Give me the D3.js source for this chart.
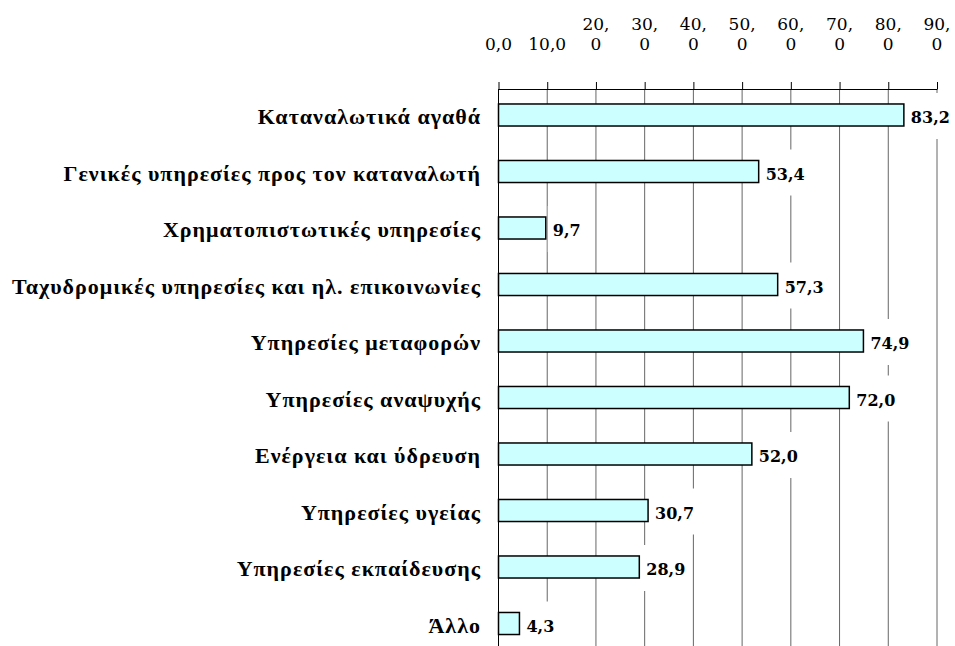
<!DOCTYPE html>
<html>
<head>
<meta charset="utf-8">
<script src="https://cdn.jsdelivr.net/npm/d3@7"></script>
<style>
  body { margin: 0; background: #fff; }
  svg { display: block; }
</style>
</head>
<body>
<div id="chart"></div>
<script>
// categories, top to bottom
var categories = [
  "Καταναλωτικά αγαθά",
  "Γενικές υπηρεσίες προς τον καταναλωτή",
  "Χρηματοπιστωτικές υπηρεσίες",
  "Ταχυδρομικές υπηρεσίες και ηλ. επικοινωνίες",
  "Υπηρεσίες μεταφορών",
  "Υπηρεσίες αναψυχής",
  "Ενέργεια και ύδρευση",
  "Υπηρεσίες υγείας",
  "Υπηρεσίες εκπαίδευσης",
  "Άλλο"
];
var values = [83.2, 53.4, 9.7, 57.3, 74.9, 72.0, 52.0, 30.7, 28.9, 4.3];
var tickValues = [0, 10, 20, 30, 40, 50, 60, 70, 80, 90];

var width = 955, height = 646;
var x0 = 498.5, axisY = 89;

var svg = d3.select("#chart")
  .append("svg")
    .attr("width", width)
    .attr("height", height);

var x = d3.scaleLinear()
  .domain([0, 90])
  .range([x0, 937]);

var y = d3.scaleBand()
  .domain(categories)
  .range([86.75, 86.75 + 56.5 * categories.length])
  .paddingInner(0.61)
  .paddingOuter(0.305);

var fmt = function(v) { return d3.format(".1f")(v).replace(".", ","); };

// gridlines
svg.append("g")
  .selectAll("line")
  .data(tickValues)
  .enter()
  .append("line")
    .attr("x1", d => x(d))
    .attr("x2", d => x(d))
    .attr("y1", axisY)
    .attr("y2", height)
    .attr("stroke", d => d === 0 ? "#000" : "#666")
    .attr("stroke-width", 1);

// top axis
var axis = svg.append("g")
  .attr("transform", "translate(0," + axisY + ")")
  .call(d3.axisTop(x).tickValues(tickValues).tickSize(7).tickSizeOuter(0).tickFormat(""));
axis.select(".domain").attr("stroke", "#000");
axis.selectAll(".tick line").attr("stroke", "#000");

// tick labels (wrapped like the original: "20," / "0")
var tickLab = svg.append("g")
  .attr("font-family", "'DejaVu Serif', serif")
  .attr("font-size", 17)
  .attr("fill", "#000")
  .attr("text-anchor", "middle");

tickValues.forEach(function(t) {
  var s = fmt(t);
  if (t < 20) {
    tickLab.append("text").attr("x", x(t)).attr("y", 50).text(s);
  } else {
    var parts = s.split(",");
    tickLab.append("text").attr("x", x(t)).attr("y", 30).text(parts[0] + ",");
    tickLab.append("text").attr("x", x(t)).attr("y", 50).text(parts[1]);
  }
});

// category labels
svg.append("g")
  .selectAll("text")
  .data(categories)
  .enter()
  .append("text")
    .attr("x", 481)
    .attr("y", d => y(d) + y.bandwidth() / 2 + 1.5)
    .attr("dy", "0.35em")
    .attr("text-anchor", "end")
    .attr("font-family", "'Liberation Serif', serif")
    .attr("font-weight", "bold")
    .attr("font-size", 22)
    .attr("letter-spacing", 1)
    .text(d => d);

// value labels with white boxes (they hide the gridlines)
var valG = svg.append("g");
categories.forEach(function(c, i) {
  var cy = y(c) + y.bandwidth() / 2;
  var g = valG.append("g");
  var box = g.append("rect").attr("fill", "#fff");
  var t = g.append("text")
    .attr("x", x(values[i]) + 7)
    .attr("y", cy + 2)
    .attr("dy", "0.38em")
    .attr("font-family", "'DejaVu Serif', serif")
    .attr("font-weight", "bold")
    .attr("font-size", 16)
    .text(fmt(values[i]));
  var bb = t.node().getBBox();
  box.attr("x", x(values[i]) + 2)
    .attr("y", cy - 22)
    .attr("width", bb.x + bb.width + 3 - (x(values[i]) + 2))
    .attr("height", 46);
});

// bars
svg.append("g")
  .selectAll("rect")
  .data(values)
  .enter()
  .append("rect")
    .attr("x", x(0))
    .attr("y", (d, i) => y(categories[i]))
    .attr("width", d => x(d) - x(0))
    .attr("height", y.bandwidth())
    .attr("fill", "#ccffff")
    .attr("stroke", "#000")
    .attr("stroke-width", 1.5);
</script>
</body>
</html>
